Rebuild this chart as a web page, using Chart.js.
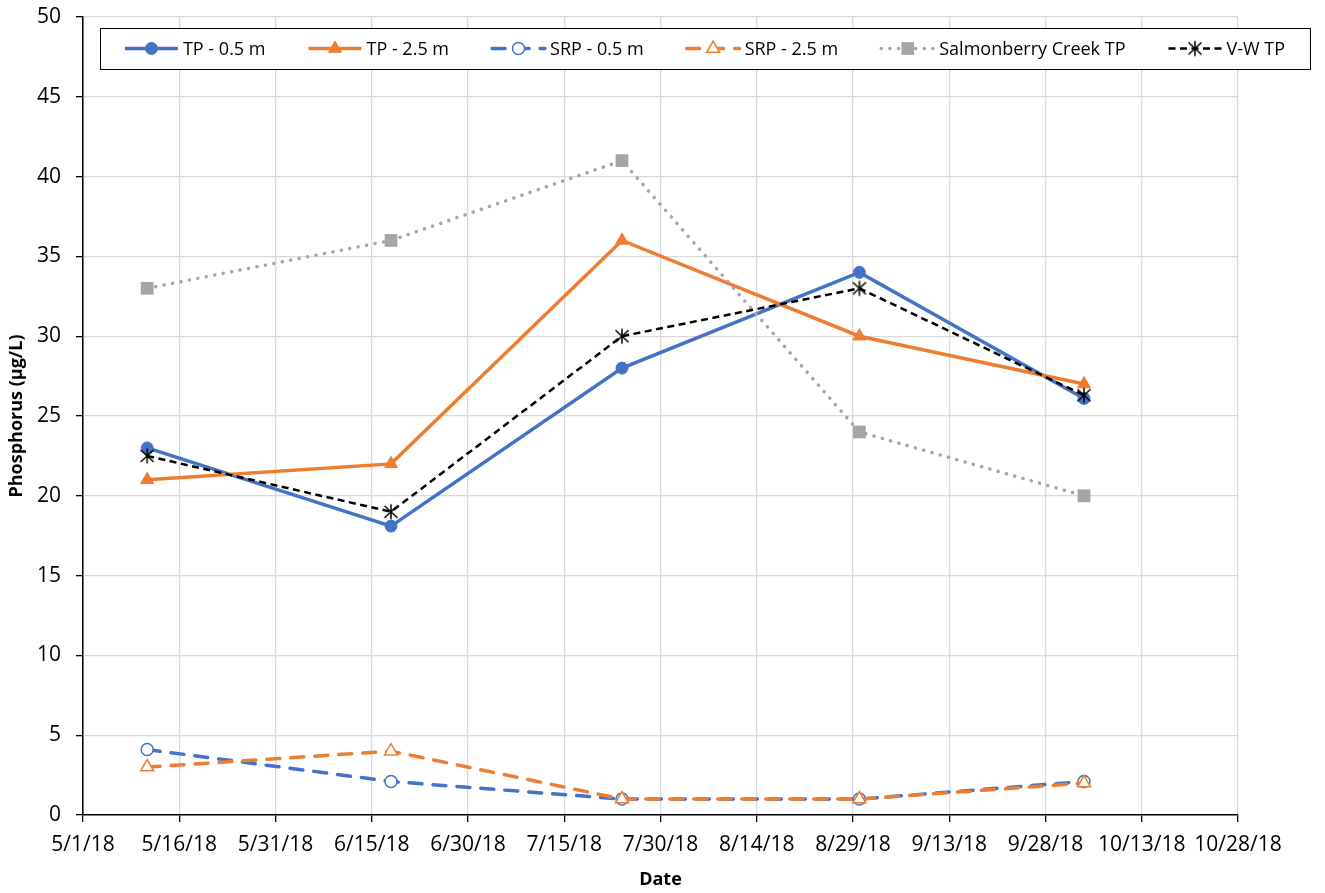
<!DOCTYPE html>
<html>
<head>
<meta charset="utf-8">
<script src="https://cdn.jsdelivr.net/npm/chart.js@4"></script>
<style>
  html, body { margin: 0; padding: 0; background: #fff; }
  #wrap { width: 1325px; height: 893px; }
</style>
</head>
<body>
<div id="wrap"><canvas id="phos" width="1325" height="893"></canvas></div>
<script>
// sample dates (Excel date axis) and values
const sampleDates = ['2018-05-11', '2018-06-18', '2018-07-24', '2018-08-30', '2018-10-04'];
const tp05 = [23, 18.1, 28, 34, 26.1];
const tp25 = [21, 22, 36, 30, 27];
const srp05 = [4.1, 2.1, 1.0, 1.0, 2.1];
const srp25 = [3, 4, 1, 1, 2];
const salmonberryTP = [33, 36, 41, 24, 20];
const vwTP = [22.5, 19, 30, 33, 26.3];

const axisStart = '2018-05-01';
const axisDays = 180;
const tickStepDays = 15;
const yTicksMax = 50;

const DAY = 86400000;
const startMs = Date.parse(axisStart + 'T00:00:00Z');
const toDay = (d) => (Date.parse(d + 'T00:00:00Z') - startMs) / DAY;
const fmtDay = (v) => {
    const d = new Date(startMs + v * DAY);
    return (d.getUTCMonth() + 1) + '/' + d.getUTCDate() + '/' + String(d.getUTCFullYear()).slice(2);
};
const pts = (vals) => vals.map((v, i) => ({ x: toDay(sampleDates[i]), y: v }));

// asterisk marker like Excel's "*" (X plus vertical bar)
const star = document.createElement('canvas');
star.width = 18; star.height = 18;
(function () {
    const c = star.getContext('2d');
    c.strokeStyle = '#000';
    c.lineWidth = 1.5;
    c.beginPath();
    c.moveTo(2.5, 3); c.lineTo(15.5, 15);
    c.moveTo(15.5, 3); c.lineTo(2.5, 15);
    c.moveTo(9, 1.5); c.lineTo(9, 16.5);
    c.stroke();
})();

const BLUE = '#4472C4', ORANGE = '#ED7D31', GREY = '#A5A5A5';
const FONT = '"Open Sans", "Liberation Sans", sans-serif';

const datasets = [
    { label: 'TP - 0.5 m', data: pts(tp05), borderColor: BLUE, backgroundColor: BLUE, borderWidth: 3.5,
      pointStyle: 'circle', pointRadius: 6, pointBorderWidth: 1, pointBackgroundColor: BLUE, order: 6 },
    { label: 'TP - 2.5 m', data: pts(tp25), borderColor: ORANGE, backgroundColor: ORANGE, borderWidth: 3.5,
      pointStyle: 'triangle', pointRadius: 7.5, pointBorderWidth: 1, pointBackgroundColor: ORANGE, order: 5 },
    { label: 'SRP - 0.5 m', data: pts(srp05), borderColor: BLUE, backgroundColor: '#fff', borderWidth: 3.5,
      borderDash: [13, 11], borderCapStyle: 'round',
      pointStyle: 'circle', pointRadius: 6, pointBorderWidth: 1.5, pointBackgroundColor: '#fff', order: 4 },
    { label: 'SRP - 2.5 m', data: pts(srp25), borderColor: ORANGE, backgroundColor: '#fff', borderWidth: 3.5,
      borderDash: [13, 11], borderCapStyle: 'round',
      pointStyle: 'triangle', pointRadius: 7.5, pointBorderWidth: 1.5, pointBackgroundColor: '#fff', order: 3 },
    { label: 'Salmonberry Creek TP', data: pts(salmonberryTP), borderColor: GREY, backgroundColor: GREY, borderWidth: 3.5,
      borderDash: [0.1, 8.5], borderCapStyle: 'round',
      pointStyle: 'rect', pointRadius: 9, pointBorderWidth: 0, pointBackgroundColor: GREY, order: 2 },
    { label: 'V-W TP', data: pts(vwTP), borderColor: '#000', backgroundColor: '#000', borderWidth: 2.5,
      borderDash: [7, 4.5],
      pointStyle: star, pointRadius: 9, pointBorderWidth: 0, order: 1 },
];

// legend drawn inside the plot, with line sample + marker like Excel
const boxLegend = {
    id: 'boxLegend',
    afterDraw(chart) {
        const ctx = chart.ctx;
        const bx = 100, by = 28, bw = 1210, bh = 41;
        const cy = by + bh / 2;
        const sample = 53, gapText = 5, gapItem = 43;
        ctx.save();
        ctx.fillStyle = '#fff';
        ctx.fillRect(bx, by, bw, bh);
        ctx.strokeStyle = '#000';
        ctx.lineWidth = 1;
        ctx.strokeRect(bx + 0.5, by + 0.5, bw, bh);
        ctx.font = '18px ' + FONT;
        ctx.textBaseline = 'middle';
        const widths = datasets.map(ds => sample + gapText + ctx.measureText(ds.label).width);
        const total = widths.reduce((a, b) => a + b, 0) + gapItem * (datasets.length - 1);
        let x = bx + (bw - total) / 2;
        datasets.forEach((ds, i) => {
            ctx.save();
            ctx.strokeStyle = ds.borderColor;
            ctx.lineWidth = ds.borderWidth;
            ctx.lineCap = ds.borderCapStyle || 'butt';
            ctx.setLineDash(ds.borderDash || []);
            ctx.beginPath();
            ctx.moveTo(x, cy); ctx.lineTo(x + sample, cy);
            ctx.stroke();
            ctx.setLineDash([]);
            ctx.fillStyle = ds.pointBackgroundColor || ds.backgroundColor;
            ctx.strokeStyle = ds.borderColor;
            ctx.lineWidth = ds.pointBorderWidth;
            Chart.helpers.drawPoint(ctx, {
                pointStyle: ds.pointStyle, radius: ds.pointRadius, rotation: 0, borderWidth: ds.pointBorderWidth
            }, x + sample / 2, cy);
            ctx.restore();
            ctx.fillStyle = '#000';
            ctx.fillText(ds.label, x + sample + gapText, cy + 1);
            x += widths[i] + gapItem;
        });
        ctx.restore();
    }
};

new Chart(document.getElementById('phos'), {
    type: 'line',
    data: { datasets: datasets },
    plugins: [boxLegend],
    options: {
        responsive: false,
        animation: false,
        layout: { padding: { top: 17, right: 87, bottom: 0, left: 0 } },
        plugins: {
            legend: { display: false },
            tooltip: { enabled: false },
        },
        scales: {
            x: {
                type: 'linear',
                min: 0,
                max: axisDays,
                afterFit: (s) => { s.height = 78; s.paddingLeft = 0; s.paddingRight = 0; },
                afterBuildTicks: (s) => {
                    s.ticks = [];
                    for (let d = 0; d <= axisDays; d += tickStepDays) s.ticks.push({ value: d });
                },
                ticks: {
                    autoSkip: false,
                    maxRotation: 0,
                    padding: 10,
                    color: '#000',
                    font: { family: FONT, size: 21 },
                    callback: (v) => fmtDay(v),
                },
                grid: { color: '#d9d9d9', lineWidth: 1.3, tickColor: '#000', tickLength: 7 },
                border: { color: '#000', width: 1.5 },
                title: {
                    display: true, text: 'Date', color: '#000',
                    font: { family: FONT, size: 18, weight: 'bold' },
                    padding: { top: 0, bottom: 2 },
                },
            },
            y: {
                min: 0,
                max: yTicksMax,
                afterFit: (s) => { s.width = 83; s.paddingTop = 0; s.paddingBottom = 0; },
                ticks: {
                    stepSize: 5,
                    padding: 15,
                    color: '#000',
                    font: { family: FONT, size: 21 },
                },
                grid: { color: '#d9d9d9', lineWidth: 1.3, tickColor: '#000', tickLength: 7 },
                border: { color: '#000', width: 1.5 },
                title: {
                    display: true, text: 'Phosphorus (µg/L)', color: '#000',
                    font: { family: FONT, size: 18, weight: 'bold' },
                    padding: { top: 6, bottom: 0 },
                },
            },
        },
    },
});
</script>
</body>
</html>
